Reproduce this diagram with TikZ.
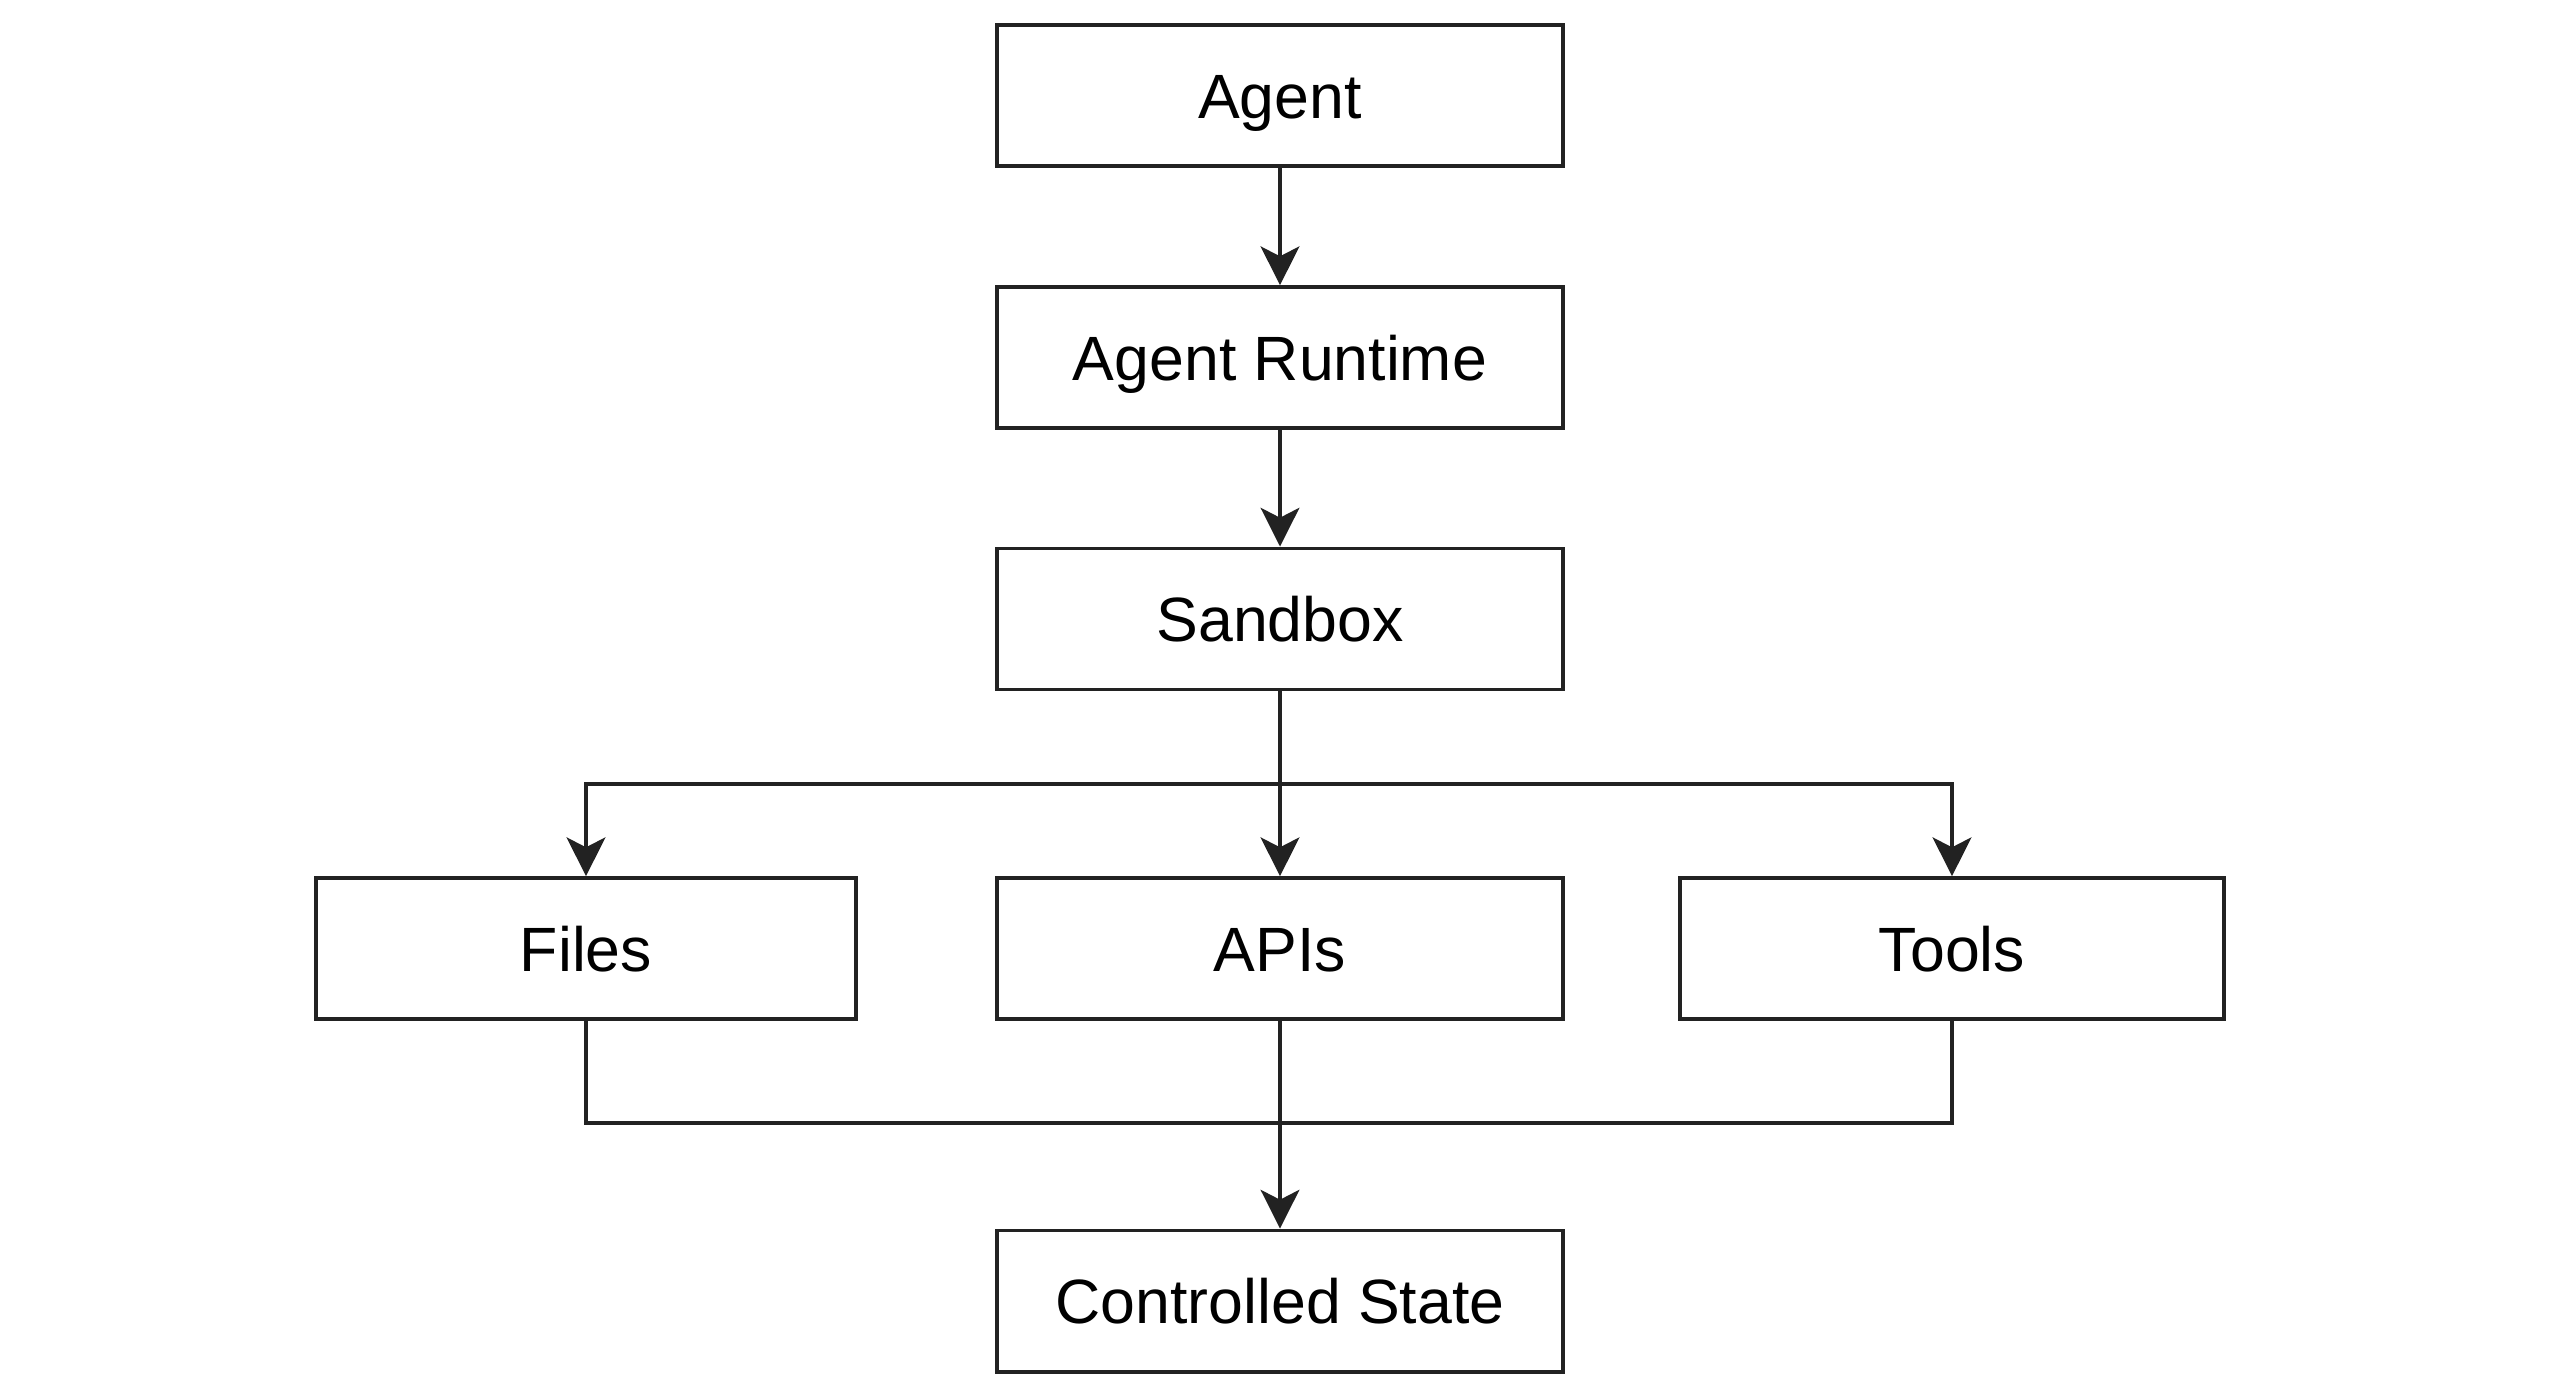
\documentclass[tikz,border=0pt]{standalone}
\usepackage{fontspec}
\setmainfont{Liberation Sans}
\usetikzlibrary{arrows.meta}
\definecolor{ink}{HTML}{222222}
\begin{document}
\begin{tikzpicture}[x=0.01cm,y=-0.01cm,
  box/.style={draw=ink,line width=1.1pt,fill=white,minimum height=1.41cm,inner sep=0pt,
    text height=12.9pt,text depth=0pt,font=\fontsize{17.8}{20}\selectfont,text=black},
  conn/.style={draw=ink,line width=1.1pt},
  arr/.style={conn,-{Stealth[length=11pt,width=11pt,inset=2.8pt]}}]
\useasboundingbox (0,0) rectangle (2560,1396);
\fill[white] (0,0) rectangle (2560,1396);
\node[box,minimum width=5.65cm] (agent) at (1280,95.5) {Agent};
\node[box,minimum width=5.65cm] (runtime) at (1280,357.6) {Agent Runtime};
\node[box,minimum width=5.65cm] (sandbox) at (1280,619) {Sandbox};
\node[box,minimum width=5.39cm] (files) at (586,948.6) {Files};
\node[box,minimum width=5.65cm] (apis) at (1280,948.6) {APIs};
\node[box,minimum width=5.44cm] (tools) at (1952,948.6) {Tools};
\node[box,minimum width=5.65cm] (state) at (1280,1301) {Controlled State};
\coordinate (split) at (1280,783.7);
\coordinate (merge) at (1280,1123.3);
\draw[arr] (agent) -- (runtime);
\draw[arr] (runtime) -- (sandbox);
\draw[conn] (sandbox.south) -- (split);
\draw[arr] (split) -- (apis.north);
\draw[arr] (split) -| (files.north);
\draw[arr] (split) -| (tools.north);
\draw[conn] (files.south) |- (merge);
\draw[conn] (tools.south) |- (merge);
\draw[conn] (apis.south) -- (merge);
\draw[arr] (merge) -- (state.north);
\end{tikzpicture}
\end{document}
